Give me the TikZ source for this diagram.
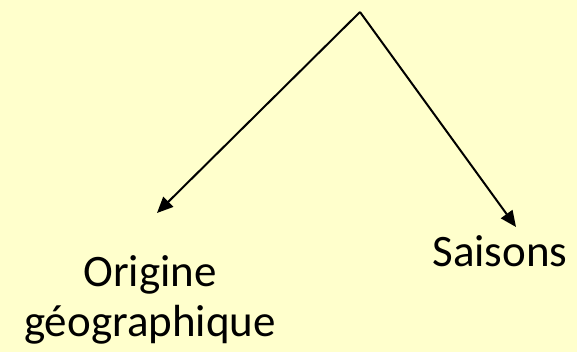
\documentclass[tikz,border=0pt]{standalone}
\usepackage{fontspec}
\setmainfont{Carlito}
\usetikzlibrary{arrows.meta}
\definecolor{bgyellow}{HTML}{FFFFCC}
\tikzset{
  conn/.style={line width=2pt, -{Triangle[length=16pt,width=14pt]}},
  lbl/.style={font=\fontsize{45}{50}\selectfont, inner sep=0pt, anchor=base}
}
\begin{document}
\begin{tikzpicture}[x=1pt,y=1pt]
  \fill[bgyellow] (0,0) rectangle (577,352);
  \useasboundingbox (0,0) rectangle (577,352);
  \coordinate (apex) at (360,340);
  \coordinate (lefttip) at (157,139);
  \coordinate (righttip) at (516,125);
  \node[lbl] (saisons) at (500,85) {Saisons};
  \node[lbl] (origine) at (150,65) {Origine};
  \node[lbl] (geo) at (150,15) {géographique};
  \draw[conn] (apex) -- (lefttip);
  \draw[conn] (apex) -- (righttip);
\end{tikzpicture}
\end{document}
